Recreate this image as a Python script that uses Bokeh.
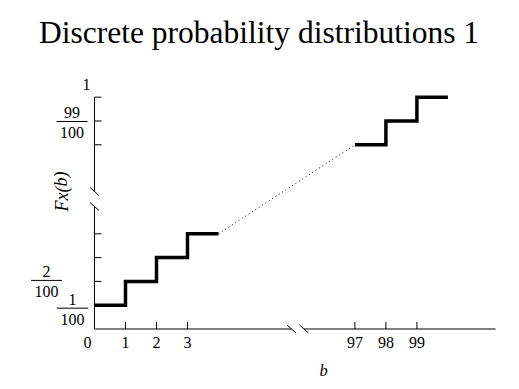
from bokeh.plotting import figure
from bokeh.models import Range1d
from bokeh.core.properties import value
from bokeh.embed import file_html
from bokeh.resources import INLINE

# ---------------- data ----------------
title_text = "Discrete probability distributions 1"
x_label = "b"
y_label = "Fx(b)"

b_low = [0, 1, 2, 3]          # b values, lower part
F_low = [1, 2, 3, 4]          # Fx(b) in 1/100
b_high = [97, 98, 99]         # b values, upper part
F_high = [98, 99, 100]        # Fx(b) in 1/100

x_ticks = [1, 2, 3, 97, 98, 99]
x_tick_labels = ["0", "1", "2", "3", "97", "98", "99"]
x_label_values = [0, 1, 2, 3, 97, 98, 99]
y_ticks = [1, 2, 3, 4, 98, 99, 100]
y_frac_values = [1, 2, 99]
y_frac_num = ["1", "2", "99"]
y_frac_den = ["100", "100", "100"]
y_top_value = 100
y_top_label = "1"

# ---------------- broken-axis scales ----------------
W, H = 519, 389
X0, Y0 = 94, 328.5   # pixel position of the origin
PXB = 31.0     # px per unit of b
PXF = 23.8     # px per 1/100 of F
B_HIGH_POS = 8.4   # display position of b = 97
F_HIGH_POS = 8.74  # display position of F = 99/100


def bx(b):
    return b if b <= 50 else b - 97 + B_HIGH_POS


def fy(f):
    return f if f <= 50 else f - 99 + F_HIGH_POS


def px_x(n):
    return n / PXB


def px_y(n):
    return n / PXF


p = figure(width=W, height=H,
           x_range=Range1d(-px_x(X0), px_x(W - X0)),
           y_range=Range1d(-px_y(H - Y0), px_y(Y0)),
           x_axis_type=None, y_axis_type=None,
           min_border=0, min_border_left=0, min_border_right=0,
           min_border_top=0, min_border_bottom=0,
           toolbar_location=None, output_backend="svg")
p.grid.visible = False
p.outline_line_color = None
p.background_fill_color = "white"
p.border_fill_color = "white"

SERIF = value("Liberation Serif")
AX = dict(line_color="black", line_width=1)

# ---- axes with breaks ----
x_brk1, x_brk2 = px_x(197), px_x(209.5)
x_end = px_x(401)
y_brk_lo, y_brk_hi = px_y(122.5), px_y(137.5)
y_top = fy(F_high[-1])

p.segment(x0=[0, x_brk2], y0=[0, 0], x1=[x_brk1, x_end], y1=[0, 0], **AX)
p.segment(x0=[0, 0], y0=[0, y_brk_hi], x1=[0, 0], y1=[y_brk_lo, y_top], **AX)
# break marks "\"
sx, sy = px_x(4.5), px_y(4)
p.segment(x0=[x_brk1 - sx, x_brk2 - sx, -sx, -sx],
          y0=[sy, sy, y_brk_lo + sy, y_brk_hi + sy],
          x1=[x_brk1 + sx, x_brk2 + sx, sx, sx],
          y1=[-sy, -sy, y_brk_lo - sy, y_brk_hi - sy], **AX)

# ticks (inside)
xt = [bx(b) for b in x_ticks]
p.segment(x0=xt, y0=[0] * len(xt), x1=xt, y1=[px_y(7)] * len(xt), **AX)
yt = [fy(f) for f in y_ticks]
p.segment(x0=[0] * len(yt), y0=yt, x1=[px_x(7)] * len(yt), y1=yt, **AX)

# ---- step function ----
xs, ys = [], []
for b, f in zip(b_low, F_low):
    xs += [bx(b), bx(b) + 1]
    ys += [fy(f), fy(f)]
p.line(xs, ys, line_color="black", line_width=3.5, line_join="miter", line_cap="butt")

xs2, ys2 = [], []
for b, f in zip(b_high, F_high):
    xs2 += [bx(b), bx(b) + 1]
    ys2 += [fy(f), fy(f)]
p.line(xs2, ys2, line_color="black", line_width=3.5, line_join="miter", line_cap="butt")

# dotted connection
p.line([xs[-1], xs2[0]], [ys[-1], ys2[0]], line_color="black", line_width=1,
       line_dash="1 3")

TXT = dict(text_font=SERIF, text_color="black", text_align="center",
           text_baseline="middle")

# ---- tick labels ----
xl = [bx(b) for b in x_label_values]
xoff = [-7 if b == 0 else 0 for b in x_label_values]
yoff = [13.5 if b == 0 else 13 for b in x_label_values]
p.text(x=xl, y=[0] * len(xl), text=x_tick_labels, x_offset=xoff, y_offset=yoff,
       text_font_size=value("16px"), **TXT)

# fraction labels on y
frac_dx = [-22, -48, -22.5]
frac_dy = [3, -1, 0.5]
fyv = [fy(v) for v in y_frac_values]
p.text(x=[0] * 3, y=fyv, text=y_frac_num, x_offset=frac_dx,
       y_offset=[d - 8.5 for d in frac_dy],
       text_font_size=value("16px"), **TXT)
p.text(x=[0] * 3, y=fyv, text=y_frac_den, x_offset=frac_dx,
       y_offset=[d + 11.5 for d in frac_dy],
       text_font_size=value("16px"), **TXT)
# fraction bars
bar_x0 = [px_x(d - 15.5) for d in frac_dx]
bar_x1 = [px_x(d + 15.5) for d in frac_dx]
bar_y = [v - px_y(d) for v, d in zip(fyv, frac_dy)]
p.segment(x0=bar_x0, y0=bar_y, x1=bar_x1, y1=bar_y, **AX)

p.text(x=[0], y=[fy(y_top_value)], text=[y_top_label], x_offset=[-8], y_offset=[-12.5],
       text_font_size=value("16px"), **TXT)

# ---- axis titles ----
p.text(x=[px_x(229)], y=[0], text=[x_label], y_offset=[41.5],
       text_font_size=value("16.5px"), text_font_style="italic", **TXT)
p.text(x=[-px_x(33)], y=[px_y(137.5)], text=[y_label], angle=1.5708,
       text_font_size=value("18px"), text_font_style="italic", **TXT)

# ---- title ----
p.text(x=[px_x(164.5)], y=[px_y(296.5)], text=[title_text],
       text_font_size=value("31.5px"), **TXT)

open("out.html", "w").write(file_html(p, INLINE))
